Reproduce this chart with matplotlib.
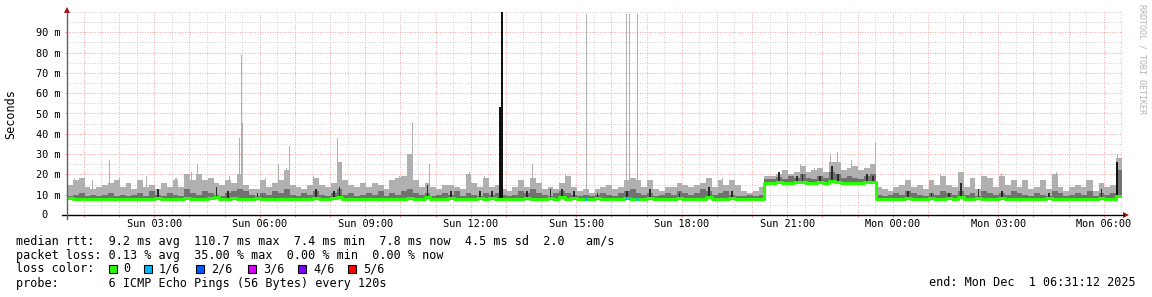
import numpy as np
import pandas as pd
import matplotlib
matplotlib.use("Agg")
import matplotlib.pyplot as plt
import matplotlib.dates as mdates
from matplotlib.patches import Rectangle, Polygon
from matplotlib.ticker import FuncFormatter, MultipleLocator

plt.rcParams["font.family"] = ["DejaVu Sans Mono"]

# ---- data (ms), one value per 10 minute bin ----
start = pd.Timestamp("2025-11-30 00:31:12")
end = pd.Timestamp("2025-12-01 06:31:12")
bin_minutes = 10

median_ms = [
    8.2, 7.9, 8.0, 7.8, 7.9, 8.1, 7.8, 8.0, 7.9, 7.8, 8.0, 7.9, 8.1, 7.9, 8.0, 8.6, 7.9, 7.8, 8.0, 7.9,
    8.3, 8.0, 7.9, 8.1, 8.4, 9.0, 8.0, 7.9, 8.2, 8.0, 7.9, 8.0, 8.3, 7.9, 8.0, 7.8, 8.1, 7.9, 8.0, 7.9,
    7.8, 8.0, 8.6, 7.9, 8.0, 8.4, 8.8, 8.0, 7.9, 8.0, 7.8, 7.9, 8.0, 7.9, 8.1, 7.9, 8.0, 7.8, 8.2, 7.9,
    8.0, 9.0, 7.9, 7.8, 8.0, 8.3, 7.9, 8.0, 8.1, 7.9, 8.4, 8.0, 8.3, 8.0, 7.8, 7.9, 8.0, 8.1, 8.5, 7.9,
    8.0, 7.9, 8.6, 8.0, 8.7, 7.9, 8.3, 7.8, 7.9, 7.8, 8.2, 7.9, 8.0, 7.8, 8.0, 8.3, 7.9, 8.1, 7.9, 8.5,
    7.8, 7.9, 8.0, 7.9, 8.3, 7.9, 8.0, 7.9, 8.0, 8.8, 7.9, 8.0, 7.8, 8.3, 7.9, 7.8, 7.8, 7.9, 7.8, 15.8,
    15.9, 16.3, 15.8, 16.0, 16.2, 16.4, 15.9, 16.0, 16.3, 15.9, 16.8, 16.4, 15.9, 16.0, 15.8, 16.0, 16.5, 16.4, 8.0, 7.9,
    7.8, 8.0, 7.9, 8.3, 8.0, 7.9, 7.8, 8.2, 8.0, 7.9, 8.3, 7.9, 9.0, 7.9, 8.0, 8.3, 7.9, 8.0, 7.8, 8.2,
    7.9, 8.0, 7.9, 8.0, 7.8, 7.9, 8.0, 8.2, 7.9, 8.0, 7.8, 8.1, 7.9, 8.0, 7.9, 8.0, 8.4, 7.9, 8.0, 9.5,
]

p5_ms = [
    9.5, 10, 11, 9.5, 10, 9.5, 10, 11, 9.5, 10, 9.5, 10, 11, 9.5, 12, 10, 9.5, 11, 10, 9.5,
    13, 11, 10, 12, 11, 10, 9.5, 11, 12, 13, 12, 10, 9.5, 11, 10, 12, 11, 13, 10, 9.5,
    11, 10, 12, 10, 9.5, 11, 13, 10, 11, 9.5, 10, 11, 10, 12, 9.5, 11, 10, 12, 13, 11,
    10, 11, 9.5, 10, 11, 10, 12, 9.5, 11, 10, 9.5, 11, 10, 11, 10, 9.5, 10, 12, 11, 13,
    11, 10, 9.5, 11, 12, 11, 10, 9.5, 10, 9.5, 10, 11, 10, 9.5, 11, 12, 13, 11, 10, 11,
    9.5, 10, 11, 10, 12, 11, 10, 11, 13, 12, 10, 11, 12, 10, 9.5, 9.5, 10, 9.5, 10, 17.5,
    17.5, 18.5, 17.5, 19, 18, 20, 18, 17.5, 19, 18, 21, 20, 18, 19, 18, 17.5, 19, 20, 10, 9.5,
    10, 11, 10, 12, 11, 10, 9.5, 11, 10, 12, 11, 10, 12, 10, 11, 9.5, 12, 11, 10, 11,
    10, 12, 11, 10, 9.5, 11, 10, 9.5, 12, 11, 9.5, 10, 11, 10, 12, 9.5, 11, 10, 11, 22,
]

max_ms = [
    15, 17, 18, 14, 13, 14, 15, 16, 17, 14, 16, 13, 17, 14, 15, 13, 16, 14, 17, 14,
    20, 17, 20, 17, 18, 16, 15, 17, 16, 20, 15, 13, 13, 17, 14, 16, 17, 22, 15, 14,
    13, 15, 18, 15, 14, 16, 26, 17, 15, 14, 16, 14, 16, 15, 13, 17, 18, 19, 30, 17,
    14, 16, 14, 13, 15, 15, 14, 13, 20, 16, 14, 18, 14, 15, 13, 12, 14, 17, 14, 18,
    16, 13, 14, 13, 16, 19, 14, 12, 13, 11, 13, 14, 15, 13, 14, 17, 18, 17, 14, 17,
    13, 12, 14, 14, 16, 15, 14, 15, 16, 18, 14, 17, 15, 17, 15, 12, 11, 12, 14, 19,
    19, 20, 22, 20, 21, 24, 21, 22, 23, 21, 26, 26, 22, 23, 24, 22, 23, 25, 14, 13,
    12, 14, 15, 17, 14, 15, 13, 17, 15, 19, 15, 14, 21, 14, 18, 13, 19, 18, 14, 19,
    15, 17, 14, 17, 13, 14, 17, 13, 20, 14, 12, 14, 15, 14, 17, 12, 16, 14, 15, 28,
]

# short dark excursions (bin index, top ms)
dark_bin = [15, 25, 27, 32, 42, 45, 46, 61, 65, 70, 72, 78, 82, 84, 86, 90, 95, 99, 104,
            109, 113, 121, 124, 125, 128, 130, 131, 136, 137, 143, 147, 150, 152, 155,
            159, 167, 176]
dark_top = [13, 14, 12, 11, 13, 12, 14, 15, 12, 12, 12, 12, 13, 13, 12, 11, 12, 13, 11,
            14, 12, 21, 19, 20, 19, 24, 20, 20, 19, 12, 11, 11, 16, 13,
            12, 11, 13]

# single-sample spikes (minutes after start, top ms)
spike_min = [12, 43, 73, 90, 136, 186, 212, 222, 278, 294, 297, 299, 338, 361, 375,
             380, 421, 462, 568, 589, 618, 686, 713, 795, 850, 886, 954, 959, 973,
             1095, 1118, 1251, 1275, 1303, 1315, 1339, 1379, 1430, 1491, 1527, 1594,
             1689, 1740, 1793]
spike_top = [18, 17, 27, 18, 19, 18, 21, 25, 19, 38, 79, 46, 18, 25, 23,
             34, 19, 38, 19, 46, 25, 21, 19, 25, 20, 99, 99, 99, 99,
             18, 18, 25, 23, 30, 31, 27, 36, 17, 20, 21, 20,
             21, 17, 30]

black_min = [739, 742, 1791.5]
black_top = [53, 110, 26]

loss_min = [886, 954, 959, 973]

loss_labels = ["0", "1/6", "2/6", "3/6", "4/6", "5/6"]
loss_colors = ["#26ff00", "#00b8ff", "#0059ff", "#dd00ff", "#7e00ff", "#ff0000"]

legend_rows = [
    "median rtt:  9.2 ms avg  110.7 ms max  7.4 ms min  7.8 ms now  4.5 ms sd  2.0   am/s",
    "packet loss: 0.13 % avg  35.00 % max  0.00 % min  0.00 % now",
    "loss color:",
    "probe:       6 ICMP Echo Pings (56 Bytes) every 120s",
]
end_text = "end: Mon Dec  1 06:31:12 2025"

# ---- figure ----
W, H = 1152, 297
fig = plt.figure(figsize=(W / 100, H / 100), dpi=100)


def fx(px):
    return px / W


def fy(py):
    return 1 - py / H


ax = fig.add_axes([fx(67), fy(215), (1122 - 67) / W, (215 - 12) / H])

t0 = mdates.date2num(start.to_pydatetime())
t1 = mdates.date2num(end.to_pydatetime())
per_min = 1 / 1440.0
n = len(max_ms)
edges = t0 + np.arange(n + 1) * bin_minutes * per_min
med = np.array(median_ms + [median_ms[-1]])
hi = np.array(max_ms + [max_ms[-1]])
mid = np.array(p5_ms + [p5_ms[-1]])

light, grey, dark = "#b0b0b0", "#717171", "#2a2a2a"

ax.fill_between(edges, med, hi, step="post", color=light, lw=0, zorder=1)
ax.fill_between(edges, med, mid, step="post", color=grey, lw=0, zorder=1.2)

# single spikes
sx = t0 + np.array(spike_min) * per_min
sb = [median_ms[int(m // bin_minutes)] for m in spike_min]
ax.bar(sx, np.array(spike_top) - np.array(sb), bottom=sb, width=1.8 * per_min,
       color=light, lw=0, zorder=1.1)

dx = edges[np.array(dark_bin)] + bin_minutes / 2 * per_min
db = [median_ms[i] for i in dark_bin]
ax.bar(dx, np.array(dark_top) - np.array(db), bottom=db, width=3.0 * per_min,
       color=dark, lw=0, zorder=1.3)

bx = t0 + np.array(black_min) * per_min
bb = [median_ms[int(m // bin_minutes)] for m in black_min]
ax.bar(bx, np.array(black_top) - np.array(bb), bottom=bb, width=2.6 * per_min,
       color="#111111", lw=0, zorder=1.4)

# median line coloured by loss
ax.step(edges, med, where="post", color=loss_colors[0], lw=2.2, zorder=4)
lx = t0 + np.array(loss_min) * per_min
ly = [median_ms[int(m // bin_minutes)] for m in loss_min]
ax.hlines(ly, lx - 1.5 * per_min, lx + 1.5 * per_min, color=loss_colors[1], lw=2.2, zorder=5)

# ---- axes / grid ----
ax.set_xlim(t0, t1)
ax.set_ylim(0, 100)
ax.set_axisbelow(True)
for s in ax.spines.values():
    s.set_visible(False)

ax.xaxis.set_major_locator(mdates.HourLocator(interval=1))
ax.xaxis.set_minor_locator(mdates.MinuteLocator(byminute=[30]))


def xfmt(x, pos):
    d = mdates.num2date(x)
    return d.strftime("%a %H:%M") if d.hour % 3 == 0 else ""


ax.xaxis.set_major_formatter(FuncFormatter(xfmt))
ax.set_yticks(np.arange(0, 100, 10))
ax.yaxis.set_minor_locator(MultipleLocator(5))
ax.set_yticklabels([""] + [f"{v} m" for v in range(10, 100, 10)])
ax.annotate("0", xy=(0, 0), xycoords=("axes fraction", "data"), xytext=(-20, 0),
            textcoords="offset pixels", ha="right", va="center", fontsize=7.4)

ax.grid(which="major", color="#f4aaaa", linestyle=(0, (1, 1.5)), lw=0.72)
ax.grid(which="minor", color="#d2d2d2", linestyle=(0, (1, 1.5)), lw=0.72)
ax.tick_params(which="major", length=1.5, width=0.72, color="#f29090", labelsize=7.4)
ax.tick_params(axis="y", which="major", pad=3.5)
ax.tick_params(axis="x", which="major", pad=1.5)
ax.tick_params(which="minor", length=0)

# axis lines and arrows
fig.add_artist(plt.Line2D([fx(62), fx(1124)], [fy(215), fy(215)], color="black", lw=1))
fig.add_artist(plt.Line2D([fx(67), fx(67)], [fy(219), fy(12)], color="#606060", lw=1))
fig.add_artist(Polygon([[fx(1123), fy(212)], [fx(1129), fy(215)], [fx(1123), fy(218)]],
                       closed=True, transform=fig.transFigure, color="#a01010", lw=0))
fig.add_artist(Polygon([[fx(64), fy(13)], [fx(67), fy(7)], [fx(70), fy(13)]],
                       closed=True, transform=fig.transFigure, color="#a01010", lw=0))

fig.text(fx(11), fy(114), "Seconds", rotation=90, ha="center", va="center", fontsize=8.5)
fig.text(fx(1142), fy(4), "RRDTOOL / TOBI OETIKER", rotation=270, ha="center", va="top",
         fontsize=6, color="#b4b4b4")

# ---- legend ----
row_y = [241, 255, 269, 283]
for txt, y in zip(legend_rows, row_y):
    fig.text(fx(16), fy(y), txt, ha="left", va="center", fontsize=8.5)

box_x = [109, 144, 196, 248, 298, 348]
lab_x = [123, 159, 211, 263, 313, 363]
for bxp, lxp, c, lab in zip(box_x, lab_x, loss_colors, loss_labels):
    fig.add_artist(Rectangle((fx(bxp), fy(273)), 8 / W, 8 / H, transform=fig.transFigure,
                             facecolor=c, edgecolor="black", lw=0.8))
    fig.text(fx(lxp), fy(269), lab, ha="left", va="center", fontsize=8.5)

fig.text(fx(1136), fy(283), end_text, ha="right", va="center", fontsize=8.5)

fig.savefig("out.png", dpi=100)
